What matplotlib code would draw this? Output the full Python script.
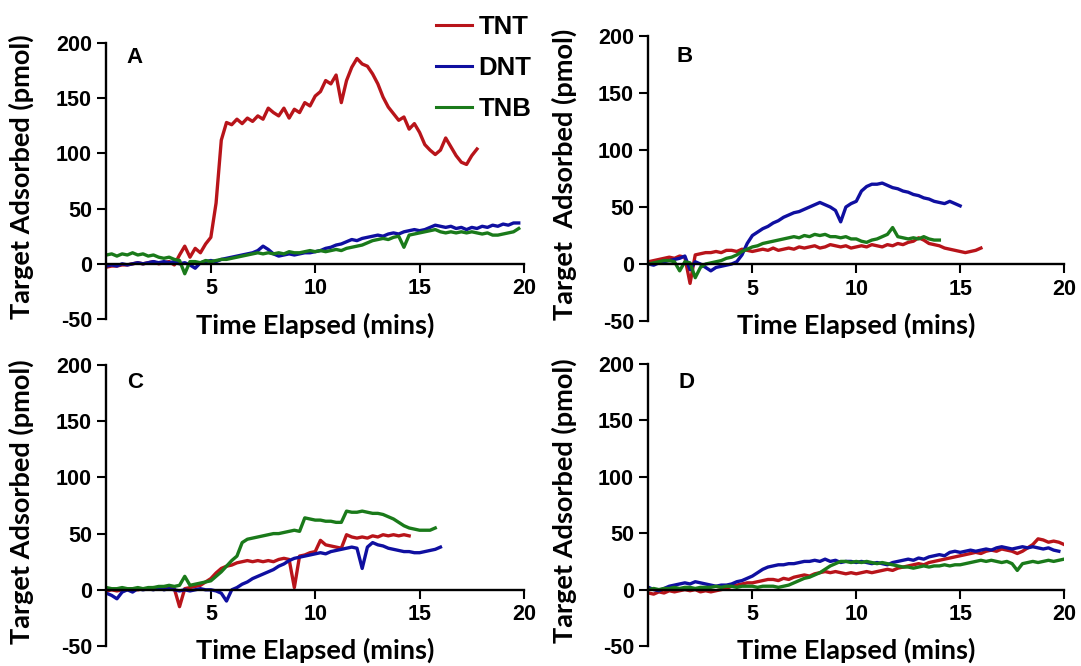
import numpy as np
import matplotlib
matplotlib.use('Agg')
import matplotlib.pyplot as plt

plt.rcParams['axes.unicode_minus'] = False

step = 0.25

# Panel A
a_tnt = [-3, -2, -2, -1, -1, 0, 1, 0, 1, 2, 0, 1, 2, -1, 8, 16, 6, 14, 10, 18,
         24, 55, 112, 128, 126, 131, 127, 132, 129, 134, 131, 141, 137, 134, 141, 132,
         140, 137, 146, 143, 152, 156, 166, 163, 171, 146, 166, 178, 186, 181, 179, 172,
         163, 151, 142, 136, 130, 133, 122, 127, 119, 108, 103, 99, 103, 114, 106, 98,
         92, 90, 98, 104]
a_dnt = [-2, -1, -2, 0, -1, 0, 1, 0, 1, 2, 1, 2, 1, 2, 0, 1, -1, -4, 1, 2,
         3, 2, 4, 5, 6, 7, 8, 9, 10, 12, 16, 13, 9, 7, 8, 9, 8, 9, 10, 10,
         11, 12, 14, 15, 17, 18, 20, 22, 21, 23, 24, 25, 26, 25, 27, 28, 27, 29, 30, 31,
         30, 31, 33, 35, 34, 33, 34, 32, 33, 31, 33, 32, 34, 33, 35, 34, 36, 35, 37, 37]
a_tnb = [8, 9, 7, 9, 8, 10, 8, 9, 7, 8, 6, 5, 6, 4, 3, -9, 2, 2, 1, 3,
         2, 3, 4, 4, 5, 6, 7, 8, 9, 10, 9, 10, 9, 10, 9, 11, 10, 10, 11, 12,
         11, 12, 11, 12, 13, 12, 14, 15, 16, 17, 19, 21, 22, 23, 22, 24, 25, 15, 26, 27,
         28, 29, 30, 31, 29, 28, 29, 28, 29, 28, 29, 28, 27, 28, 26, 26, 27, 28, 29, 32]

# Panel B
b_tnt = [2, 3, 4, 5, 6, 5, 7, 6, -17, 8, 9, 10, 10, 11, 10, 12, 12, 11, 13, 12,
         11, 12, 13, 12, 14, 12, 13, 14, 13, 15, 14, 15, 16, 14, 15, 17, 16, 15, 16, 14,
         15, 16, 15, 17, 16, 15, 17, 16, 18, 17, 19, 20, 23, 21, 18, 17, 16, 14, 13, 12,
         11, 10, 11, 12, 14]
b_dnt = [0, -1, 1, 2, 3, 4, 5, 7, -5, 2, 0, -3, -6, -3, -2, -1, 0, 2, 8, 18,
         25, 28, 31, 33, 36, 38, 41, 43, 45, 46, 48, 50, 52, 54, 52, 50, 47, 37, 50, 53,
         55, 64, 68, 70, 70, 71, 69, 67, 66, 64, 63, 61, 60, 58, 57, 55, 54, 53, 55, 53,
         51]
b_tnb = [0, 1, 2, 3, 3, 2, -6, 2, 1, -12, -3, 0, 1, 2, 3, 5, 6, 8, 11, 13,
         15, 16, 18, 19, 20, 21, 22, 23, 24, 23, 25, 24, 26, 25, 26, 24, 24, 23, 24, 22,
         22, 20, 19, 21, 22, 24, 26, 32, 24, 23, 22, 23, 22, 24, 22, 21, 21]

# Panel C
c_tnt = [-1, 0, -1, 0, 0, 1, 0, 1, 1, 2, 1, 2, 2, 1, -15, 1, 2, 3, 4, 7,
         10, 15, 19, 21, 22, 24, 25, 26, 25, 26, 25, 26, 25, 27, 28, 27, 2, 30, 31, 33,
         34, 44, 40, 39, 38, 37, 49, 47, 46, 47, 46, 48, 47, 49, 48, 49, 48, 49, 48]
c_dnt = [-3, -5, -8, -2, 0, -2, 1, 0, 1, 0, 2, 0, 1, 0, -1, 0, -1, 0, 1, 0,
         0, -1, -3, -10, 0, 2, 5, 7, 10, 12, 14, 16, 18, 21, 23, 26, 28, 29, 30, 31,
         32, 33, 32, 34, 35, 36, 37, 38, 37, 19, 38, 42, 40, 39, 37, 36, 35, 34, 34, 33,
         33, 34, 35, 36, 38]
c_tnb = [2, 1, 1, 2, 1, 1, 2, 1, 2, 2, 3, 3, 4, 3, 4, 12, 4, 5, 6, 7,
         8, 12, 16, 21, 26, 30, 42, 45, 46, 47, 48, 49, 50, 50, 51, 52, 53, 52, 64, 63,
         62, 62, 61, 61, 60, 60, 70, 69, 69, 70, 69, 68, 68, 67, 65, 63, 60, 57, 55, 54,
         53, 53, 53, 55]

# Panel D
d_tnt = [-3, -4, -2, -3, -1, -2, -1, 0, -1, 0, -2, -1, -2, -1, 0, 1, 3, 4, 5, 6,
         6, 7, 8, 9, 9, 8, 10, 9, 11, 12, 13, 12, 14, 15, 16, 15, 16, 15, 14, 15,
         14, 15, 16, 15, 16, 17, 18, 17, 19, 20, 21, 22, 23, 22, 24, 25, 26, 27, 28, 29,
         30, 31, 32, 33, 32, 34, 35, 34, 36, 35, 34, 32, 34, 37, 40, 45, 44, 42, 43, 42,
         40]
d_dnt = [2, 0, -1, 1, 3, 4, 5, 6, 5, 7, 6, 5, 4, 3, 4, 4, 5, 7, 8, 10,
         12, 15, 18, 20, 21, 22, 22, 23, 23, 24, 25, 25, 26, 25, 27, 25, 26, 24, 25, 25,
         24, 25, 24, 23, 24, 23, 22, 24, 25, 26, 27, 26, 28, 27, 29, 30, 31, 30, 33, 34,
         33, 34, 35, 34, 35, 36, 35, 37, 38, 37, 36, 37, 38, 37, 38, 37, 36, 37, 35, 34]
d_tnb = [0, 1, 0, 1, 1, 2, 1, 2, 2, 1, 2, 2, 2, 3, 2, 3, 3, 2, 3, 3,
         3, 2, 3, 3, 3, 2, 3, 4, 6, 8, 10, 11, 13, 15, 18, 21, 23, 25, 25, 24,
         25, 24, 25, 24, 23, 24, 23, 22, 21, 20, 20, 19, 20, 21, 20, 21, 21, 22, 21, 22,
         22, 23, 24, 25, 26, 25, 26, 25, 24, 25, 23, 17, 23, 24, 25, 24, 25, 26, 25, 26,
         27]

series_names = ['TNT', 'DNT', 'TNB']
colors = ['#B8141A', '#0F0FA0', '#1A7A1A']

panels = [
    ('A', [a_tnt, a_dnt, a_tnb], [0.0985, 0.521, 0.3862, 0.4144], 'Target Adsorbed (pmol)', (0.98, 187), -0.054),
    ('B', [b_tnt, b_dnt, b_tnb], [0.5999, 0.518, 0.3844, 0.4279], 'Target  Adsorbed (pmol)', (1.37, 182), -0.046),
    ('C', [c_tnt, c_dnt, c_tnb], [0.0985, 0.030, 0.3862, 0.4220], 'Target Adsorbed (pmol)', (1.0, 184), -0.044),
    ('D', [d_tnt, d_dnt, d_tnb], [0.5999, 0.030, 0.3844, 0.4235], 'Target Adsorbed (pmol)', (1.45, 184), -0.044),
]

tick_font = dict(family='Liberation Sans', weight='bold', size=15.5)
label_font = dict(family='Lato', weight='bold', size=19.5)

fig = plt.figure(figsize=(10.81, 6.66), dpi=100)

legend_handles = None
for letter, data, rect, ylab, letter_pos, xlab_y in panels:
    ax = fig.add_axes(rect)
    handles = []
    for vals, name, col in zip(data, series_names, colors):
        t = np.arange(len(vals)) * step
        h, = ax.plot(t, vals, color=col, lw=2.4, label=name)
        handles.append(h)
    if legend_handles is None:
        legend_handles = handles

    ax.set_xlim(0, 20)
    ax.set_ylim(-50, 200)
    ax.spines['top'].set_visible(False)
    ax.spines['right'].set_visible(False)
    ax.spines['bottom'].set_position(('data', 0))
    ax.spines['bottom'].set_linewidth(1.7)
    ax.spines['left'].set_linewidth(1.7)
    ax.set_xticks([5, 10, 15, 20])
    ax.set_yticks([-50, 0, 50, 100, 150, 200])
    ax.tick_params(direction='out', length=6.5, width=1.5, pad=4)
    for lab in ax.get_xticklabels() + ax.get_yticklabels():
        lab.set(**tick_font)

    ax.text(letter_pos[0], letter_pos[1], letter, fontsize=16, fontweight='bold',
            family='Liberation Sans', va='center', ha='left')
    ax.text(0.5, xlab_y, 'Time Elapsed (mins)', transform=ax.transAxes,
            ha='center', va='baseline', **label_font)
    ax.text(-0.203, 0.515, ylab, transform=ax.transAxes, rotation=90,
            ha='center', va='center', **label_font)

fig.legend(handles=legend_handles, labels=series_names, loc='upper left',
           bbox_to_anchor=(0.4033, 0.978), frameon=False, borderpad=0,
           borderaxespad=0, handlelength=1.4, handletextpad=0.25, labelspacing=0.67,
           prop=dict(family='Liberation Sans', weight='bold', size=18.5))
for line in fig.legends[0].get_lines():
    line.set_linewidth(2.2)

fig.savefig('out.png', dpi=100)
